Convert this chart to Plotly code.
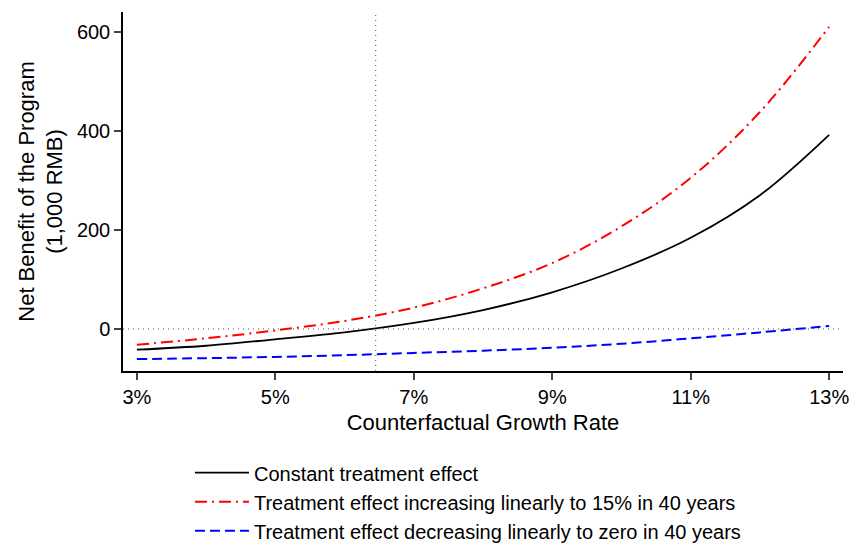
import plotly.graph_objects as go

growth = [3, 4, 5, 6, 7, 8, 9, 10, 11, 12, 13]
constant = [-42, -34, -21, -7, 12, 38, 74, 122, 184, 270, 392]
increasing = [-32, -19, -3, 16, 43, 82, 133, 207, 305, 438, 610]
decreasing = [-61, -59, -56.5, -53, -48.5, -44, -38, -30, -19, -7, 6]

names = ["Constant treatment effect",
         "Treatment effect increasing linearly to 15% in 40 years",
         "Treatment effect decreasing linearly to zero in 40 years"]

breakeven = 6.45
xticks = [3, 5, 7, 9, 11, 13]
xticktext = ["3%", "5%", "7%", "9%", "11%", "13%"]
yticks = [0, 200, 400, 600]

font = "Liberation Sans, Arial, Helvetica, sans-serif"

fig = go.Figure()
fig.add_trace(go.Scatter(x=growth, y=constant, mode="lines", name=names[0],
                         line=dict(color="black", width=1.8, shape="spline", smoothing=1.0)))
fig.add_trace(go.Scatter(x=growth, y=increasing, mode="lines", name=names[1],
                         line=dict(color="#ff0000", width=2, dash="12px,5px,2px,5px", shape="spline", smoothing=1.0)))
fig.add_trace(go.Scatter(x=growth, y=decreasing, mode="lines", name=names[2],
                         line=dict(color="#0000ff", width=2, dash="10px,5px", shape="spline", smoothing=1.0)))

fig.add_hline(y=0, line=dict(color="#555555", width=1, dash="1px,4px"))
fig.add_vline(x=breakeven, line=dict(color="#555555", width=1, dash="1px,4px"))

fig.update_layout(
    width=850, height=543,
    margin=dict(l=123, r=7, t=12, b=172, autoexpand=False),
    paper_bgcolor="white", plot_bgcolor="white",
    font=dict(family=font, size=20, color="black"),
    showlegend=True,
    legend=dict(x=0.093, y=-0.229, xanchor="left", yanchor="top",
                font=dict(size=20), itemwidth=54, bgcolor="rgba(0,0,0,0)"),
    xaxis=dict(range=[2.8, 13.2], tickvals=xticks, ticktext=xticktext,
               showgrid=False, zeroline=False, showline=True, linecolor="black",
               linewidth=1.5, ticks="outside", ticklen=7, tickwidth=1.5,
               tickfont=dict(size=20),
               title=dict(text="Counterfactual Growth Rate", font=dict(size=22), standoff=8)),
    yaxis=dict(range=[-85, 640], tickvals=yticks,
               showgrid=False, zeroline=False, showline=True, linecolor="black",
               linewidth=1.5, ticks="outside", ticklen=7, tickwidth=1.5,
               tickfont=dict(size=20),
               title=dict(text="Net Benefit of the Program<br>(1,000 RMB)", font=dict(size=22), standoff=8)),
)

fig.write_html("out.html")
